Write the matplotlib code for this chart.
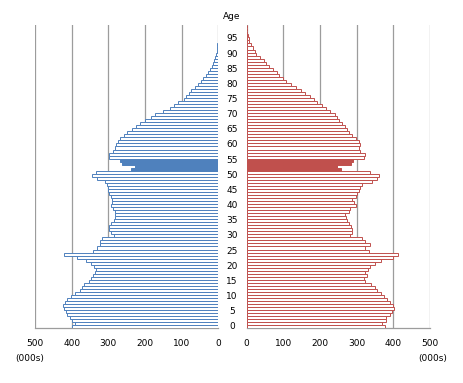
import numpy as np
import matplotlib
matplotlib.use('Agg')
import matplotlib.pyplot as plt
from matplotlib.transforms import blended_transform_factory

ages = list(range(100))
male = [399, 390, 399, 405, 412, 416, 421, 424, 418, 412,
        401, 391, 378, 371, 366, 353, 348, 342, 337, 335,
        339, 348, 362, 385, 420, 342, 330, 324, 324, 317,
        285, 294, 297, 297, 294, 285, 281, 283, 281, 287,
        294, 290, 290, 294, 299, 300, 301, 303, 308, 330,
        344, 333, 237, 228, 262, 269, 299, 297, 287, 281,
        278, 274, 267, 258, 249, 235, 224, 213, 199, 184,
        172, 151, 131, 120, 109, 95, 88, 81, 75, 64,
        56, 48, 41, 34, 28, 23, 18, 15, 12, 9,
        6.5, 4.5, 3.5, 2.7, 2, 1.5, 1, 0.7, 0.5, 0.3]
female = [377, 370, 381, 381, 392, 397, 401, 400, 391, 383,
          374, 365, 356, 349, 338, 324, 319, 327, 324, 330,
          335, 350, 365, 398, 413, 333, 324, 336, 324, 315,
          281, 286, 287, 285, 278, 274, 272, 269, 278, 283,
          297, 292, 287, 297, 301, 306, 310, 315, 342, 356,
          360, 336, 257, 245, 285, 290, 319, 324, 310, 306,
          310, 306, 297, 287, 278, 274, 269, 260, 251, 246,
          240, 228, 217, 205, 193, 183, 172, 160, 148, 135,
          122, 108, 100, 87, 82, 73, 62, 53, 46, 36,
          26, 23, 16, 11, 7, 5.5, 3, 2, 1.5, 1]
highlight = [52, 53, 54, 55]
age_ticks = list(range(0, 100, 5))
x_ticks = [0, 100, 200, 300, 400, 500]

blue = '#4f81bd'
red = '#c0504d'
grid_col = '#9c9c9c'
fnt = 'DejaVu Sans'
fs = 6.5

fig = plt.figure(figsize=(4.63, 3.83), dpi=100)
axl = fig.add_axes([0.0756, 0.1428, 0.396, 0.7912])
axr = fig.add_axes([0.5328, 0.1428, 0.396, 0.7912])

def draw(ax, vals, col):
    fc = ['white' if a not in highlight else col for a in ages]
    ax.barh(ages, vals, height=1.0, color=fc, edgecolor=col, linewidth=0.7, zorder=3)
    ax.set_ylim(-0.5, 99.5)
    ax.set_xticks(x_ticks)
    ax.set_xticklabels([str(t) for t in x_ticks], fontsize=fs, family=fnt)
    ax.set_yticks([])
    ax.tick_params(axis='x', length=0, pad=8)
    ax.grid(axis='x', color=grid_col, linewidth=0.9, zorder=0)
    ax.set_axisbelow(True)
    for s in ['top', 'left', 'right']:
        ax.spines[s].set_visible(False)
    ax.spines['bottom'].set_color(grid_col)
    ax.spines['bottom'].set_linewidth(0.9)

draw(axl, male, blue)
draw(axr, female, red)
axl.set_xlim(500, 0)
axr.set_xlim(0, 500)

tr = blended_transform_factory(fig.transFigure, axl.transData)
for a in age_ticks:
    axl.text(0.501, a, str(a), transform=tr, ha='center', va='center', fontsize=fs, family=fnt)
fig.text(0.501, 0.958, 'Age', ha='center', va='center', fontsize=fs, family=fnt)
fig.text(0.065, 0.064, '(000s)', ha='center', va='center', fontsize=fs, family=fnt)
fig.text(0.935, 0.064, '(000s)', ha='center', va='center', fontsize=fs, family=fnt)

fig.savefig('out.png', dpi=100)
